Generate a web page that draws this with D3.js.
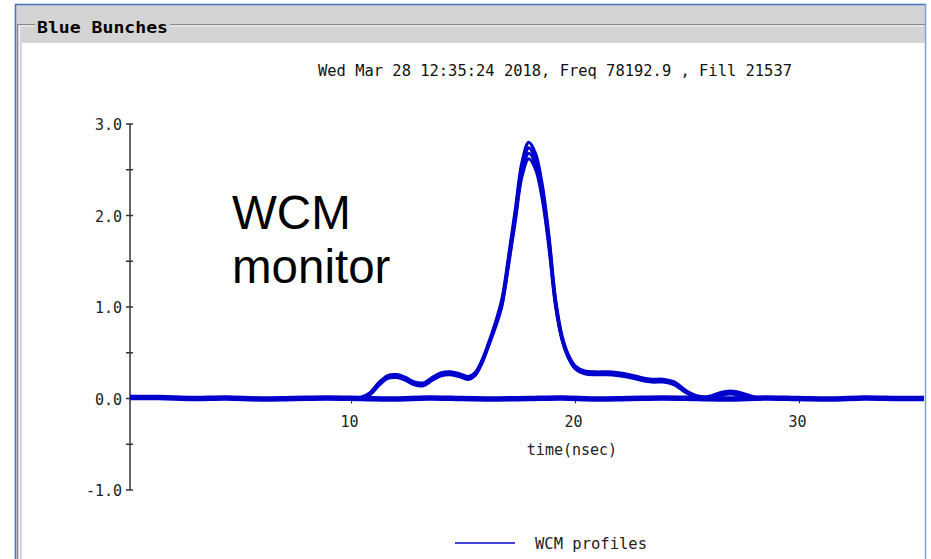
<!DOCTYPE html>
<html><head><meta charset="utf-8">
<script src="https://cdn.jsdelivr.net/npm/d3@7"></script>
<style>html,body{margin:0;padding:0;background:#fff;}svg{display:block;}</style>
</head><body>
<script>
// ---- data ----
const profTime = [10.0,10.5,10.9,11.3,11.7,12.1,12.5,12.9,13.3,13.7,14.1,14.5,14.9,15.3,15.6,15.9,16.2,16.5,16.8,17.1,17.4,17.7,18.0,18.3,18.6,18.9,19.2,19.5,19.8,20.1,20.5,21.0,21.5,22.0,22.5,23.0,23.5,24.0,24.5,25.0,25.5,26.0,26.5,27.0,27.5,28.0,28.5];
const profileA = [0,0.01,0.06,0.17,0.25,0.26,0.23,0.18,0.17,0.23,0.28,0.29,0.27,0.24,0.28,0.41,0.6,0.82,1.08,1.55,2.06,2.58,2.80,2.68,2.34,1.78,1.08,0.67,0.46,0.35,0.30,0.29,0.29,0.28,0.26,0.23,0.21,0.21,0.18,0.09,0.03,0.02,0.06,0.08,0.06,0.02,0];
const profileB = [0,0,0.05,0.16,0.24,0.25,0.22,0.17,0.16,0.22,0.27,0.28,0.26,0.23,0.27,0.40,0.59,0.80,1.05,1.52,2.02,2.53,2.74,2.62,2.29,1.74,1.05,0.65,0.45,0.34,0.29,0.28,0.28,0.27,0.25,0.22,0.20,0.20,0.17,0.08,0.02,0.01,0.05,0.07,0.05,0.01,0];
const profileC = [0,0.01,0.05,0.15,0.23,0.24,0.21,0.16,0.15,0.21,0.26,0.27,0.25,0.22,0.26,0.39,0.58,0.79,1.03,1.49,1.98,2.48,2.68,2.57,2.24,1.70,1.03,0.64,0.44,0.33,0.28,0.27,0.27,0.26,0.24,0.21,0.19,0.19,0.16,0.07,0.02,0.01,0.04,0.06,0.04,0.01,0];
const profileD = [0,0,0.04,0.14,0.22,0.23,0.20,0.15,0.14,0.20,0.25,0.26,0.24,0.21,0.25,0.38,0.57,0.77,1.01,1.46,1.94,2.43,2.62,2.51,2.19,1.66,1.01,0.63,0.43,0.32,0.27,0.26,0.26,0.25,0.23,0.20,0.18,0.18,0.15,0.07,0.01,0,0.03,0.05,0.03,0,0];
const baseTime = [0.2,1.5,3,4.5,6,7.5,9,10.5,12,13.5,15,16.5,18,19.5,21,22.5,24,25.5,27,28.5,30,31.5,33,34.5,36];
const baseValues = [0.01,0.01,0,0.005,-0.005,0,0.005,0,-0.005,0.005,0,-0.005,0,0.005,-0.005,0,0.005,0,-0.005,0.005,0,-0.005,0.005,0,0];
const xTicks = [10, 20, 30];
const yTicks = [-1, -0.5, 0, 0.5, 1, 1.5, 2, 2.5, 3];
const yTickLabels = ["-1.0", "", "0.0", "", "1.0", "", "2.0", "", "3.0"];
const titleText = "Wed Mar 28 12:35:24 2018, Freq 78192.9 , Fill 21537";
const groupTitle = "Blue Bunches";
const xLabel = "time(nsec)";
const legendLabel = "WCM profiles";
const annotationLines = ["WCM", "monitor"];

// ---- drawing ----
const W = 931, H = 559;
const svg = d3.select("body").append("svg").attr("width", W).attr("height", H);
const mono = "'DejaVu Sans Mono', monospace";

// frame
svg.append("rect").attr("x",16).attr("y",5).attr("width",909).attr("height",38).attr("fill","#d4d4d4");
svg.append("rect").attr("x",16).attr("y",5).attr("width",6).attr("height",H).attr("fill","#d4d4d4");
svg.append("rect").attr("x",22).attr("y",43).attr("width",903).attr("height",H-43).attr("fill","#ffffff");
// group box lines
const gb = svg.append("g");
gb.append("line").attr("x1",17).attr("x2",35).attr("y1",24.5).attr("y2",24.5).attr("stroke","#888");
gb.append("line").attr("x1",170).attr("x2",925).attr("y1",24.5).attr("y2",24.5).attr("stroke","#888");
gb.append("line").attr("x1",19).attr("x2",35).attr("y1",26).attr("y2",26).attr("stroke","#f2f2f2");
gb.append("line").attr("x1",170).attr("x2",925).attr("y1",26).attr("y2",26).attr("stroke","#f2f2f2");
gb.append("line").attr("x1",17.5).attr("x2",17.5).attr("y1",24).attr("y2",H).attr("stroke","#888");
gb.append("line").attr("x1",19.5).attr("x2",19.5).attr("y1",26).attr("y2",H).attr("stroke","#f2f2f2");
svg.append("text").attr("x",37).attr("y",33).attr("font-family",mono).attr("font-weight","bold")
  .attr("font-size",16).attr("textLength",131).attr("lengthAdjust","spacingAndGlyphs").attr("fill","#000").text(groupTitle);
// blue window borders
svg.append("line").attr("x1",15.5).attr("x2",15.5).attr("y1",4).attr("y2",H).attr("stroke","#4a72c0").attr("stroke-width",1.5);
svg.append("line").attr("x1",15).attr("x2",926).attr("y1",4.5).attr("y2",4.5).attr("stroke","#4a72c0").attr("stroke-width",1.5);
svg.append("line").attr("x1",925.5).attr("x2",925.5).attr("y1",4).attr("y2",H).attr("stroke","#7f9fd6").attr("stroke-width",1.5);

// scales
const x = d3.scaleLinear().domain([0.2, 36]).range([130, 130 + 35.8 * 22.4]);
const y = d3.scaleLinear().domain([-1, 3]).range([490, 124]);

// title
svg.append("text").attr("x",318).attr("y",76).attr("font-family",mono).attr("font-size",15)
  .attr("textLength",474).attr("lengthAdjust","spacingAndGlyphs").attr("fill","#111").text(titleText);

// y axis
const yAxisG = svg.append("g").attr("transform","translate(130,0)");
yAxisG.append("line").attr("y1",y(3)).attr("y2",y(-1)).attr("stroke","#333").attr("stroke-width",1.5);
yAxisG.selectAll("line.tk").data(yTicks).join("line").attr("class","tk")
  .attr("x1",-4).attr("x2",3).attr("y1",d=>y(d)).attr("y2",d=>y(d)).attr("stroke","#333").attr("stroke-width",1.5);
yAxisG.selectAll("text").data(yTicks).join("text")
  .attr("x",-8).attr("y",d=>y(d)+6).attr("text-anchor","end").attr("font-family",mono).attr("font-size",15)
  .attr("fill","#222").text((d,i)=>yTickLabels[i]);

// x axis at y=0
const xAxisG = svg.append("g").attr("transform",`translate(0,${y(0)})`);
xAxisG.append("line").attr("x1",130).attr("x2",924).attr("stroke","#333");
xAxisG.selectAll("line.tk").data(xTicks).join("line").attr("class","tk")
  .attr("x1",d=>x(d)+2).attr("x2",d=>x(d)+2).attr("y1",0).attr("y2",5).attr("stroke","#333");
xAxisG.selectAll("text").data(xTicks).join("text")
  .attr("x",d=>x(d)).attr("y",28.5).attr("text-anchor","middle").attr("font-family",mono).attr("font-size",15)
  .attr("fill","#222").text(d=>d);
svg.append("text").attr("x",572).attr("y",455).attr("text-anchor","middle").attr("font-family",mono)
  .attr("font-size",15).attr("fill","#222").text(xLabel);

// clip
svg.append("clipPath").attr("id","plotclip").append("rect").attr("x",128).attr("y",100).attr("width",924-128).attr("height",420);
const plot = svg.append("g").attr("clip-path","url(#plotclip)");
const blue = "#0000cd";
const lineGen = d3.line().x(d=>x(d[0])).y(d=>y(d[1])).curve(d3.curveCatmullRom.alpha(0.5));
plot.append("path").datum(baseTime.map((t,i)=>[t,baseValues[i]])).attr("d",lineGen)
  .attr("fill","none").attr("stroke",blue).attr("stroke-width",5.5);
[profileA, profileB, profileC, profileD].forEach(p=>{
  plot.append("path").datum(profTime.map((t,i)=>[t,p[i]])).attr("d",lineGen)
    .attr("fill","none").attr("stroke",blue).attr("stroke-width",3.2).attr("stroke-linejoin","round");
});

// annotation
const ann = svg.append("text").attr("font-family","'Liberation Sans', Arial, sans-serif").attr("font-size",47.5).attr("fill","#000");
ann.selectAll("tspan").data(annotationLines).join("tspan").attr("x",232).attr("y",(d,i)=>229+i*54).text(d=>d);

// legend
svg.append("line").attr("x1",455).attr("x2",515).attr("y1",543).attr("y2",543).attr("stroke","#4545dd").attr("stroke-width",2);
svg.append("text").attr("x",535).attr("y",549).attr("font-family",mono).attr("font-size",15)
  .attr("textLength",112).attr("lengthAdjust","spacingAndGlyphs").attr("fill","#222").text(legendLabel);
</script>
</body></html>
